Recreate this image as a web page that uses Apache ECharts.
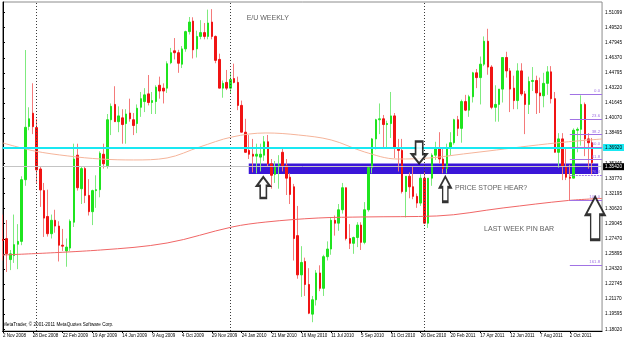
<!DOCTYPE html>
<html><head><meta charset="utf-8">
<script src="https://cdn.jsdelivr.net/npm/echarts@6/dist/echarts.min.js"></script>
<style>html,body{margin:0;padding:0;background:#ffffff}#c{width:625px;height:338px}</style>
</head><body><div id="c"></div>
<script>
// ---- data (weekly EUR/USD, week index 0 = 2 Nov 2008) ----
const weekLabels = ['2 Nov 2008','28 Dec 2008','22 Feb 2009','19 Apr 2009','14 Jun 2009','9 Aug 2009','4 Oct 2009','29 Nov 2009','24 Jan 2010','21 Mar 2010','16 May 2010','11 Jul 2010','5 Sep 2010','31 Oct 2010','26 Dec 2010','20 Feb 2011','17 Apr 2011','12 Jun 2011','7 Aug 2011','2 Oct 2011'];
const weekLabelIdx = [0,8,16,24,32,40,48,56,64,72,80,88,96,104,112,120,128,136,144,152];
const priceTicks = ['1.51099','1.49520','1.47945','1.46370','1.44795','1.43220','1.41645','1.40070','1.38495','1.36920','1.35345','1.33770','1.32195','1.30620','1.29045','1.27470','1.25895','1.24320','1.22745','1.21170','1.19595','1.18020'];

const opens = [1.2740,1.2749,1.2530,1.2571,1.2690,1.2720,1.3364,1.3920,1.4058,1.3908,1.3476,1.3250,1.2980,1.2800,1.2940,1.2880,1.2680,1.2620,1.2650,1.2920,
1.3620,1.3270,1.3480,1.3200,1.3030,1.3250,1.3260,1.3630,1.3510,1.3990,1.4150,1.3970,1.4010,1.3950,1.4060,1.3990,1.3950,1.4120,1.4180,1.4260,
1.4170,1.4180,1.4350,1.4320,1.4320,1.4585,1.4710,1.4690,1.4570,1.4730,1.4910,1.5020,1.4730,1.4860,1.4900,1.4860,1.5010,1.4860,1.4620,1.4320,
1.4380,1.4320,1.4420,1.4380,1.4140,1.3860,1.3670,1.3630,1.3610,1.3600,1.3620,1.3760,1.3530,1.3420,1.3500,1.3650,1.3510,1.3390,1.3290,1.2780,
1.2370,1.2510,1.2270,1.1960,1.2110,1.2390,1.2230,1.2560,1.2640,1.2940,1.2910,1.3050,1.3280,1.2750,1.2700,1.2760,1.2890,1.2710,1.3050,1.3490,
1.3790,1.3990,1.4000,1.3940,1.3950,1.4030,1.3700,1.3670,1.3240,1.3400,1.3290,1.3190,1.3120,1.3380,1.2910,1.3380,1.3620,1.3690,1.3580,1.3480,
1.3700,1.3750,1.3990,1.3900,1.4180,1.4090,1.4230,1.4480,1.4430,1.4570,1.4810,1.4540,1.4120,1.4150,1.4310,1.4640,1.4500,1.4320,1.4190,1.4500,
1.4260,1.4150,1.4390,1.4400,1.4270,1.4240,1.4370,1.4490,1.4210,1.3650,1.3790,1.3500,1.3390,1.3380,1.3880,1.3890,1.4150,1.3790,1.3750];
const highs = [1.3000,1.2943,1.2630,1.3000,1.2900,1.3400,1.4718,1.4120,1.4371,1.4000,1.3500,1.3330,1.3260,1.3000,1.3050,1.2930,1.2850,1.2750,1.2950,1.3740,
1.3740,1.3500,1.3500,1.3370,1.3260,1.3410,1.3660,1.3740,1.4050,1.4160,1.4340,1.4130,1.4100,1.4100,1.4210,1.4060,1.4150,1.4280,1.4320,1.4457,
1.4280,1.4350,1.4440,1.4370,1.4600,1.4740,1.4843,1.4720,1.4760,1.4920,1.5063,1.5060,1.4920,1.5030,1.5000,1.5140,1.5145,1.4870,1.4680,1.4400,
1.4510,1.4490,1.4576,1.4440,1.4190,1.4000,1.3830,1.3790,1.3740,1.3740,1.3820,1.3831,1.3580,1.3560,1.3620,1.3690,1.3580,1.3430,1.3320,1.3090,
1.2670,1.2550,1.2440,1.2150,1.2420,1.2470,1.2580,1.2720,1.2970,1.2990,1.3110,1.3330,1.3280,1.2900,1.2770,1.2920,1.2920,1.3130,1.3500,1.3800,
1.4000,1.4160,1.4040,1.3980,1.4280,1.4060,1.3790,1.3790,1.3400,1.3440,1.3500,1.3220,1.3420,1.3440,1.3380,1.3640,1.3760,1.3860,1.3690,1.3740,
1.3860,1.4000,1.4030,1.4200,1.4250,1.4250,1.4490,1.4520,1.4650,1.4860,1.4940,1.4560,1.4350,1.4240,1.4620,1.4700,1.4530,1.4450,1.4580,1.4580,
1.4290,1.4440,1.4540,1.4450,1.4430,1.4480,1.4550,1.4550,1.4280,1.3850,1.3850,1.3700,1.3520,1.3900,1.3910,1.4245,1.4170,1.3850,1.3800];
const lows = [1.2520,1.2400,1.2420,1.2495,1.2430,1.2680,1.3300,1.3880,1.3840,1.3320,1.3080,1.2766,1.2770,1.2750,1.2810,1.2510,1.2620,1.2455,1.2620,1.2870,
1.3250,1.3110,1.3120,1.2990,1.2890,1.3070,1.3180,1.3480,1.3480,1.3830,1.3970,1.3860,1.3740,1.3740,1.3970,1.3830,1.3850,1.4020,1.4070,1.4140,
1.4050,1.4050,1.4210,1.4160,1.4270,1.4570,1.4620,1.4480,1.4530,1.4700,1.4880,1.4630,1.4640,1.4830,1.4830,1.4830,1.4830,1.4580,1.4320,1.4220,
1.4300,1.4260,1.4370,1.4090,1.3860,1.3650,1.3580,1.3440,1.3430,1.3450,1.3560,1.3500,1.3270,1.3330,1.3270,1.3450,1.3204,1.3110,1.2520,1.2330,
1.2140,1.2150,1.1960,1.1876,1.2050,1.2200,1.2150,1.2520,1.2580,1.2780,1.2830,1.3010,1.2730,1.2640,1.2590,1.2660,1.2630,1.2690,1.3030,1.3430,
1.3680,1.3840,1.3700,1.3700,1.3800,1.3590,1.3450,1.3220,1.2970,1.3170,1.3160,1.3070,1.3090,1.2900,1.2860,1.3300,1.3570,1.3530,1.3430,1.3430,
1.3620,1.3730,1.3820,1.3750,1.4080,1.4020,1.4170,1.4320,1.4150,1.4550,1.4460,1.4100,1.3970,1.3970,1.4170,1.4430,1.4070,1.4100,1.4100,1.4240,
1.3840,1.4050,1.4290,1.4050,1.4060,1.4120,1.4250,1.4160,1.3650,1.3490,1.3360,1.3360,1.3145,1.3380,1.3650,1.3720,1.3610,1.3480,1.3420];
const closes = [1.2730,1.2592,1.2590,1.2686,1.2720,1.3364,1.3911,1.4000,1.3918,1.3467,1.3257,1.2963,1.2800,1.2940,1.2880,1.2680,1.2670,1.2660,1.2930,1.3580,
1.3280,1.3480,1.3200,1.3030,1.3250,1.3260,1.3640,1.3530,1.3990,1.4130,1.3970,1.4030,1.3940,1.4050,1.4000,1.3930,1.4110,1.4210,1.4250,1.4170,
1.4190,1.4330,1.4290,1.4290,1.4575,1.4690,1.4690,1.4580,1.4730,1.4910,1.5010,1.4720,1.4860,1.4900,1.4860,1.5000,1.4860,1.4610,1.4320,1.4370,
1.4320,1.4410,1.4380,1.4140,1.3860,1.3650,1.3630,1.3610,1.3630,1.3630,1.3760,1.3530,1.3410,1.3500,1.3520,1.3510,1.3380,1.3210,1.2750,1.2370,
1.2500,1.2270,1.1970,1.2110,1.2390,1.2230,1.2560,1.2640,1.2940,1.2910,1.3050,1.3280,1.2750,1.2700,1.2760,1.2890,1.2710,1.3050,1.3490,1.3790,
1.3990,1.4000,1.3940,1.3950,1.4030,1.3700,1.3670,1.3240,1.3400,1.3290,1.3190,1.3120,1.3380,1.2910,1.3380,1.3620,1.3690,1.3580,1.3480,1.3700,
1.3750,1.3990,1.3900,1.4180,1.4090,1.4230,1.4480,1.4430,1.4570,1.4810,1.4540,1.4120,1.4150,1.4310,1.4640,1.4500,1.4310,1.4190,1.4500,1.4260,
1.4150,1.4390,1.4400,1.4270,1.4240,1.4370,1.4490,1.4210,1.3650,1.3790,1.3500,1.3390,1.3380,1.3880,1.3890,1.4150,1.3790,1.3750,1.3542];

// slow moving average (salmon) and long moving average (red), read at sample weeks
const maSlowWeeks = [0,8.4,17.4,26.2,35,44,52.7,61.4,70.5,79.2,88,97,105.7,114.5,123.5,132.3,141,151,160.6];
const maSlowVals  = [1.3747,1.3664,1.3612,1.3580,1.3570,1.3591,1.3705,1.3810,1.3852,1.3831,1.3779,1.3653,1.3580,1.3591,1.3633,1.3674,1.3716,1.3758,1.3789];
const maLongWeeks = [0,26.2,44,61.4,70.5,84.5,97,116.3,134.1,151.6,160.6];
const maLongVals  = [1.2578,1.2630,1.2703,1.2870,1.2922,1.2964,1.2975,1.2985,1.3069,1.3147,1.3168];

const fibNames  = ['0.0','23.6','38.2','50.0','61.8','76.4','100.0','161.8'];
const fibPrices = [1.4256,1.3995,1.3834,1.3704,1.3574,1.3413,1.3152,1.2470];
const fibStartWeek = 152;

const hLinePrice = 1.3692, hLineText = '1.36920';
const bidPrice = 1.3542, bidText = '1.35420';
const zoneWeeks = [65.9, 159.6];
const zonePrices = [1.3424, 1.3533];
const yearSeparatorWeeks = [9, 61, 113];

const arrowWeeks  = [69.8, 111.6, 118.6, 158.8];
const arrowPrices = [1.3283, 1.3648, 1.3265, 1.2961];
const arrowDirs   = ['up','down','up','up'];

const noteTexts  = ['E/U WEEKLY','PRICE STOPE HEAR?','LAST WEEK PIN BAR'];
const noteWeeks  = [71.0, 130.9, 138.4];
const notePrices = [1.5052, 1.3281, 1.2849];

// ---- chart ----
const X_MIN = -0.106, X_MAX = 160.64, Y_MIN = 1.17841, Y_MAX = 1.52195;
const FONT = 'Liberation Sans';
const candles = opens.map((o, i) => [i, o, closes[i], lows[i], highs[i]]);
const bodies = opens.map((o, i) => [i, o, closes[i], Math.min(o, closes[i]), Math.max(o, closes[i])]);
const zip = (a, b) => a.map((v, i) => [v, b[i]]);
const arrowSize = [[13,21],[15,22],[11,25],[19,43]];
const arrowPath = 'path://M50,0 L100,42 L74,42 L74,100 L26,100 L26,42 L0,42 Z';

const chart = echarts.init(document.getElementById('c'), null, {renderer: 'canvas'});
chart.setOption({
  animation: false,
  backgroundColor: '#ffffff',
  textStyle: {fontFamily: FONT},
  grid: {left: 1, right: 18, top: 2, bottom: 7, show: true, borderColor: '#8c8c8c', borderWidth: 1, backgroundColor: 'transparent'},
  xAxis: {
    type: 'value', min: X_MIN, max: X_MAX,
    axisLine: {show: true, onZero: false, lineStyle: {color: '#000', width: 1}},
    axisTick: {show: true, length: 2, customValues: weekLabelIdx, lineStyle: {color: '#000'}},
    splitLine: {show: false},
    axisLabel: {
      customValues: weekLabelIdx, align: 'left', margin: 2, fontSize: 4.5, color: '#000', fontFamily: FONT,
      formatter: v => weekLabels[weekLabelIdx.indexOf(Math.round(v))] || ''
    }
  },
  yAxis: {
    type: 'value', position: 'right', min: Y_MIN, max: Y_MAX, scale: true,
    axisLine: {show: true, lineStyle: {color: '#000', width: 1}},
    axisTick: {show: true, length: 2, customValues: priceTicks.map(Number), lineStyle: {color: '#000'}},
    splitLine: {show: false},
    axisLabel: {
      customValues: priceTicks.map(Number), margin: 3, fontSize: 4.7, color: '#000', fontFamily: FONT,
      formatter: v => { let best = 0; priceTicks.forEach((t, k) => { if (Math.abs(+t - v) < Math.abs(+priceTicks[best] - v)) best = k; }); return priceTicks[best]; }
    }
  },
  series: [
    { // blue zone (background object)
      type: 'line', z: 1, data: [[zoneWeeks[0], zonePrices[0]]], symbol: 'none', lineStyle: {opacity: 0}, silent: true,
      markArea: {silent: true, itemStyle: {color: '#3a16d8', opacity: 1},
        data: [[{coord: [zoneWeeks[0], zonePrices[1]]}, {coord: [zoneWeeks[1], zonePrices[0]]}]]}
    },
    {
      type: 'line', z: 2, data: [[0, bidPrice]], symbol: 'none', lineStyle: {opacity: 0}, silent: true,
      markLine: {silent: true, symbol: 'none', label: {show: false},
        lineStyle: {color: '#3a3a3a', width: 1, type: [1, 2]},
        data: yearSeparatorWeeks.map(w => ({xAxis: w}))}
    },
    { // wicks (lighter, as in the scaled screenshot)
      type: 'candlestick', z: 3, barWidth: 1, encode: {x: 0, y: [1, 2, 3, 4]},
      itemStyle: {color: '#7fea7f', color0: '#f47a7a', borderColor: '#7fea7f', borderColor0: '#f47a7a', borderWidth: 1},
      data: candles
    },
    { // bodies
      type: 'candlestick', z: 3, barWidth: 2, encode: {x: 0, y: [1, 2, 3, 4]},
      itemStyle: {color: '#1fe41f', color0: '#f01414', borderColor: '#1fe41f', borderColor0: '#f01414', borderWidth: 1},
      data: bodies
    },
    {type: 'line', z: 4, smooth: 0.35, symbol: 'none', lineStyle: {color: '#f5b49a', width: 1}, data: zip(maSlowWeeks, maSlowVals)},
    {type: 'line', z: 4, smooth: 0.35, symbol: 'none', lineStyle: {color: '#f06666', width: 1}, data: zip(maLongWeeks, maLongVals)},
    { // horizontal line + bid line + fibonacci
      type: 'line', z: 5, data: [[0, bidPrice]], symbol: 'none', lineStyle: {opacity: 0}, silent: true,
      markLine: {
        silent: true, symbol: 'none',
        data: [
          {yAxis: bidPrice, lineStyle: {color: '#c4c4c4', width: 1, type: 'solid'},
           label: {show: true, position: 'end', distance: 1, formatter: bidText, color: '#fff', backgroundColor: '#000', fontSize: 4.7, padding: [1, 2], fontFamily: FONT}},
          {yAxis: hLinePrice, lineStyle: {color: '#19e8f2', width: 2, type: 'solid'},
           label: {show: true, position: 'end', distance: 1, formatter: hLineText, color: '#000', backgroundColor: '#19e8f2', fontSize: 4.7, padding: [1, 2], fontFamily: FONT}},
          ...fibNames.map((n, k) => [
            {coord: [fibStartWeek, fibPrices[k]], lineStyle: {color: '#a173e4', width: 1, type: k === 5 ? [2, 1] : 'solid'},
             label: {show: true, position: 'insideEndTop', distance: [2, 1], formatter: n, color: '#a173e4', fontSize: 4.3, fontFamily: FONT}},
            {coord: [X_MAX, fibPrices[k]]}
          ])
        ]
      }
    },
    { // arrows
      type: 'scatter', z: 6, silent: true,
      itemStyle: {color: '#ffffff', borderColor: '#000000', borderWidth: 2},
      data: arrowWeeks.map((w, k) => ({value: [w, arrowPrices[k]], symbol: arrowPath, symbolSize: arrowSize[k], symbolRotate: arrowDirs[k] === 'down' ? 180 : 0}))
    },
    { // notes
      type: 'scatter', z: 6, silent: true, symbolSize: 0,
      label: {show: true, position: 'inside', color: '#353535', fontSize: 7, fontFamily: FONT, formatter: p => noteTexts[p.dataIndex]},
      data: zip(noteWeeks, notePrices)
    }
  ],
  graphic: [{type: 'text', left: 3, top: 322, style: {text: 'MetaTrader, © 2001-2011 MetaQuotes Software Corp.', fill: '#000', font: '4.6px "Liberation Sans"'}}]
});
</script></body></html>
